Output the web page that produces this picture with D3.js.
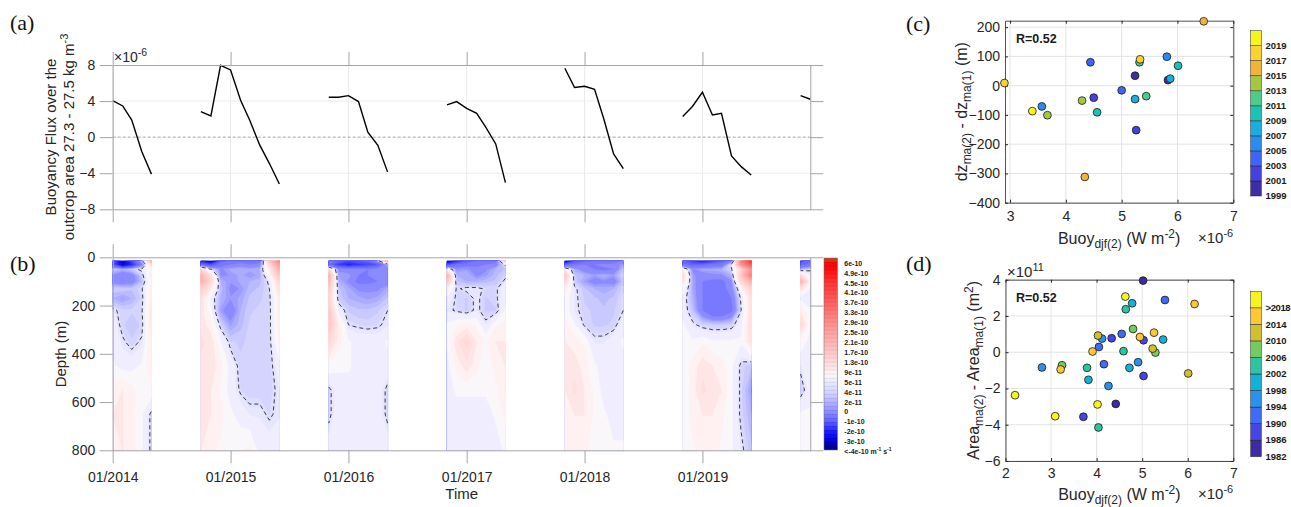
<!DOCTYPE html>
<html>
<head>
<meta charset="utf-8">
<script src="https://cdn.jsdelivr.net/npm/d3@7"></script>
<style>
  body { margin: 0; background: #fff; }
  svg  { font-family: "Liberation Sans", Arial, Helvetica, sans-serif; }
</style>
</head>
<body>
<svg id="fig" width="1291" height="507"></svg>
<script>
/* ── DATA ─────────────────────────────────────── */

// winters shown in (a) and (b): first month, then one value per month
const winterStarts = ["2014-01", "2014-10", "2015-11", "2016-11", "2017-11", "2018-11", "2019-11"];
const fluxWinters = [
  [4.05, 3.46, 1.9, -1.6, -4.1],
  [2.83, 2.35, 7.97, 7.45, 4.1, 1.9, -0.86, -2.9, -5.2],
  [4.42, 4.42, 4.6, 3.95, 0.55, -0.9, -3.85],
  [3.57, 3.94, 3.2, 2.65, 1.1, -0.75, -5.04],
  [7.64, 5.5, 5.64, 5.3, 2.1, -1.86, -3.5],
  [2.28, 3.4, 4.98, 2.46, 2.65, -2.08, -3.27, -4.2],
  [4.6, 4.2]
];
const yearTicks  = ["2014-01", "2015-01", "2016-01", "2017-01", "2018-01", "2019-01"];
const fluxTicks  = [8, 4, 0, -4, -8];
const depthTicks = [0, 200, 400, 600, 800];

// (b) field, x1e-11 m-1 s-1, rows = depth levels, columns = months of each winter
const depthLevels = [15, 30, 50, 75, 100, 130, 170, 220, 280, 350, 450, 550, 650, 800];
const heatWinters = [
  [[-8,-28,-12,3,22],[-10,-28,-18,-2,14],[3.5,2,3.5,5,9],[0,-2,-1,3.5,10],[-1,-2,-1,2.5,9],
   [3.5,3.5,3,4.2,10],[2,1,2,3.8,10],[5,3.8,3.8,4.2,11],[6,3.8,3,3.8,11],[6,4.8,3.8,4.8,10],
   [7,6,6,7,10],[9,10,9,7,8],[10,10,9,7,4],[9,10,9,7,4]],
  [[-20,-30,-10,-4,-4,-6,-4,18,30],[-6,-12,-4,-2,-1,-2,-1,14,26],[14,5,0,1.5,2,1.5,2,10,22],
   [22,12,0,0.5,1.5,0.5,1.5,8,18],[22,14,2,0.5,1.5,2,2.5,5,14],[16,10,2.5,0,0.5,2.5,3,4.5,12],
   [12,6,2,0.5,1.5,3,3.5,4,10],[11,7,1,-1.5,2,3.5,3.8,3.8,10],[11,9,3.8,1,2.5,3.8,3.8,3.8,10],
   [12,11,7,3.8,3.5,3.8,3.8,3.8,9],[11,11,9,6,3.8,3.8,3.8,3.8,6],[10,10,8,6,4.2,3.8,3.8,3.8,5],
   [10,10,9,7,6,5,5,4.2,5],[10,9,8,7,8,9,6,6,6]],
  [[-3,-8,-12,-10,-8,2,22],[-6,-15,-20,-16,-14,-10,2],[14,0,-1,-1,-2,-1,0],
   [22,1,1,-2,-2,-1,0],[20,2,0,-3,-3,-2,-1],[17,3,1.5,0,0,0,1.5],
   [15,3.5,2,1.5,1,1.5,3],[17,6,3.5,3,3,3.5,4.5],[18,10,4.5,4.2,4,4.2,5],[14,9,7,6,6,6,7],
   [8,7,7,6,6,6,6],[4,6,6,6,6,6,4],[4,6,6,6,6,6,4],[6,6,6,6,6,6,6]],
  [[-30,-18,-10,-6,-6,-4,18],[-12,-6,-4,-3,-2,-1,5],[10,0,1,-1,0,2,3],
   [22,2,2,0,1,2.5,4],[18,3,2,2,2.5,3,5],[10,4.2,5,5,4.2,4.2,6],[6,4.2,3.5,5,3.5,4.2,6],
   [5,4.2,3.5,5,3.5,3.5,7],[7,8,9,8,5,8,9],[7,11,14,10,8,10,10],[6,9,11,9,7,9,10],
   [6,7,7,7,7,8,10],[6,6,6,6,6,7,9],[6,6,6,6,6,6,7]],
  [[-30,-12,-8,-6,-6,-5,-2],[-8,-4,-2,-2,-1,-1,1],[10,1.5,-1,-2,-3,-2,3],
   [18,3,2,1,2,1,4],[14,3.5,1,-1,0,-1,3],[10,5,3,2,1.5,2,4],[8,5,3.5,3,2.5,3,4.5],
   [8,5,3.8,3.5,3,3.5,4.5],[9,7,4.2,3.5,3.5,3.8,6],[10,9,8,5,5,6,7],[10,11,9,7,6,6,6],
   [10,12,10,8,6,6,6],[9,10,10,8,7,6,6],[9,9,9,7,7,7,7]],
  [[-8,-15,-20,-15,-10,-3,32,45],[-5,-8,-8,-5,-4,5,28,38],[10,0,1.5,1.5,2,4.2,14,28],
   [14,1,-1,0,0,2,18,32],[12,1.5,-2,-3,-3,0,14,22],[8,1.5,-2,-3,-3,-1,8,15],
   [6,2,-2,-5,-5,-2,5,12],[6,3,-2,-6,-6,-3,4.5,12],[7,5,3.8,3.5,3.5,3.8,6,13],
   [7,7,8,7,7,7,7,12],[7,9,11,10,9,7,4,3],[7,9,12,11,10,7,4,1],
   [7,9,10,10,9,7,4,2],[7,8,9,9,8,7,5,3]],
  [[-12,-8],[-8,-4],[2,4],[14,6],[22,8],[12,6],[6,5],[10,7],[14,7],[8,6],[5,6],[3.5,6],[7,7],[8,7]]
];
const dashLevel = 4.5;
const cbarLevels = [60, 49, 45, 41, 37, 33, 29, 25, 21, 17, 13, 9, 5, 4, 2, 0, -10, -20, -30, -40];
const cbarLabels = ["6e-10", "4.9e-10", "4.5e-10", "4.1e-10", "3.7e-10", "3.3e-10", "2.9e-10",
  "2.5e-10", "2.1e-10", "1.7e-10", "1.3e-10", "9e-11", "5e-11", "4e-11", "2e-11", "0",
  "-1e-10", "-2e-10", "-3e-10", "<-4e-10"];

// (c) x1e-6 buoyancy vs dz, one point per year
const yearsC = [1999,2000,2001,2002,2003,2004,2005,2006,2007,2008,2009,2010,2011,2012,2013,2014,2015,2016,2017,2018,2019];
const buoyC  = [5.24,5.83,4.50,5.26,4.44,5.00,3.57,5.81,5.24,5.87,4.56,6.01,5.32,5.44,3.67,4.29,4.34,6.47,2.90,5.33,3.40];
const dzC    = [34,19,-41,-152,80,-16,-71,99,-46,24,-91,68,80,-36,-101,-51,-312,220,9,90,-87];
const xTicksC = [3, 4, 5, 6, 7];
const yTicksC = [-400, -300, -200, -100, 0, 100, 200];
const cbarTicksC = [1999, 2001, 2003, 2005, 2007, 2009, 2011, 2013, 2015, 2017, 2019];

// (d) x1e-6 buoyancy vs area change (x1e11 m2)
const yearsD = [1982,1983,1986,1987,1988,1989,1990,1991,1992,1993,1994,1995,1996,1997,1998,1999,2000,2001,
                2002,2003,2004,2005,2006,2007,2008,2010,2011,2012,2014,2015,2016,2017,2018,2019,2020,2021,2022];
const buoyD  = [5.02,4.42,4.33,5.03,5.03,3.71,5.50,4.55,4.05,4.16,4.12,2.80,4.91,4.26,4.78,5.46,4.72,3.82,
                4.64,4.59,3.79,4.04,4.80,5.29,3.24,4.03,5.23,6.01,6.15,5.26,4.95,3.91,3.21,4.63,2.21,4.02,3.09];
const areaD  = [3.95,-2.85,0.77,0.66,-1.31,-3.56,2.88,1.01,0.29,-0.66,0.75,-0.84,-0.55,-1.86,2.70,0.70,-0.86,-1.52,
                2.37,0.06,-0.86,-4.15,1.28,-0.02,-0.72,0.92,0.20,-1.17,2.66,1.08,0.84,0.04,-0.95,3.07,-2.37,-2.88,-3.53];
const xTicksD = [2, 3, 4, 5, 6, 7];
const yTicksD = [-6, -4, -2, 0, 2, 4];
const cbarTicksD = [1982, 1986, 1990, 1994, 1998, 2002, 2006, 2010, 2014, 2018];
const cbarLabelsD = ["1982", "1986", "1990", "1994", "1998", "2002", "2006", "2010", "2014", ">2018"];

/* ── STYLE ────────────────────────────────────── */

const TXT = "#262626";
const AXG = "#a4a4a4";
const parulaC = ["#3d2ea8","#4540e0","#3e64f8","#2a8cf0","#1aaee0","#1cc2b4","#4ccb8a","#a4c841","#f0b43c","#fad232","#f8f51c"];
const parulaD = ["#3d2ba4","#4645e4","#3e6cf8","#2a92ec","#10b2d8","#2ec4a2","#72cc60","#d2bf2e","#fcc834","#f8f420"];
const cbStopsT = [0, 0.014, 0.049, 0.092, 0.153, 0.222, 0.292, 0.354, 0.394, 0.417, 0.465, 0.543, 0.648, 0.769, 0.873, 0.946, 1];
const cbStopsC = ["#000090","#000090","#0000e0","#1818ff","#6464ff","#a0a0ff","#d0d0ff","#eaeaff","#fffafa",
                  "#ffeaea","#ffd8d8","#ffbaba","#ff9494","#ff6060","#ff3434","#ff0a0a","#ff0000"];

const svg = d3.select("#fig");
const parseMonth = d3.timeParse("%Y-%m");

function styleAxis(g, col, size) {
  g.attr("font-family", null).attr("font-size", size);
  g.select(".domain").attr("stroke", col);
  g.selectAll(".tick line").attr("stroke", col);
  g.selectAll(".tick text").attr("fill", TXT);
}

/* ── (a) BUOYANCY FLUX ────────────────────────── */

const xT = d3.scaleTime().domain([parseMonth("2014-01"), parseMonth("2019-12")]).range([112.7, 810.3]);
const yA = d3.scaleLinear().domain([-8, 8]).range([209.3, 65]);
const yB = d3.scaleLinear().domain([0, 800]).range([257.3, 450.3]);
const tickDates = yearTicks.map(parseMonth);

const gA = svg.append("g");
gA.selectAll(".vgrid").data(tickDates).join("line")
  .attr("x1", d => xT(d)).attr("x2", d => xT(d))
  .attr("y1", yA(8)).attr("y2", yA(-8))
  .attr("stroke", "#ebebeb");
gA.selectAll(".hgrid").data([4, -4]).join("line")
  .attr("x1", xT.range()[0]).attr("x2", xT.range()[1])
  .attr("y1", d => yA(d)).attr("y2", d => yA(d))
  .attr("stroke", "#ebebeb");
gA.append("line")
  .attr("x1", xT.range()[0]).attr("x2", xT.range()[1])
  .attr("y1", yA(0)).attr("y2", yA(0))
  .attr("stroke", "#8c8c8c").attr("stroke-dasharray", "3,2").attr("stroke-width", 0.8);

const line = d3.line().x(d => xT(d.date)).y(d => yA(d.v));
winterStarts.forEach((s, w) => {
  const pts = fluxWinters[w].map((v, k) => ({ date: d3.timeMonth.offset(parseMonth(s), k), v }));
  gA.append("path").datum(pts)
    .attr("d", line).attr("fill", "none")
    .attr("stroke", "#000").attr("stroke-width", 1.4);
});

gA.append("g").attr("transform", `translate(0,${yA(8)})`)
  .call(d3.axisTop(xT).tickValues(tickDates).tickSize(13).tickSizeOuter(0).tickFormat(""))
  .call(g => styleAxis(g, AXG, 14));
gA.append("g").attr("transform", `translate(0,${yA(-8)})`)
  .call(d3.axisBottom(xT).tickValues(tickDates).tickSize(13).tickSizeOuter(0).tickFormat(""))
  .call(g => styleAxis(g, AXG, 14));
gA.append("g").attr("transform", `translate(${xT.range()[0]},0)`)
  .call(d3.axisLeft(yA).tickValues(fluxTicks).tickSize(13).tickSizeOuter(0).tickPadding(4.5))
  .call(g => styleAxis(g, AXG, 14));
gA.append("g").attr("transform", `translate(${xT.range()[1]},0)`)
  .call(d3.axisRight(yA).tickValues(fluxTicks).tickSize(13).tickSizeOuter(0).tickFormat(""))
  .call(g => styleAxis(g, AXG, 14));

const expA = gA.append("text").attr("x", 114).attr("y", 62).attr("font-size", 14).attr("fill", TXT);
expA.append("tspan").text("\u00d710");
expA.append("tspan").attr("dy", -6).attr("font-size", 10.5).text("-6");

gA.append("text").attr("transform", "translate(55.5,137) rotate(-90)")
  .attr("text-anchor", "middle").attr("font-size", 15).attr("fill", TXT)
  .text("Buoyancy Flux over the");
const ylA = gA.append("text").attr("transform", "translate(74,137) rotate(-90)")
  .attr("text-anchor", "middle").attr("font-size", 15).attr("fill", TXT);
ylA.append("tspan").text("outcrop area 27.3 - 27.5 kg m");
ylA.append("tspan").attr("dy", -6).attr("font-size", 11).text("-3");

/* ── (b) CONTOURED FIELD ──────────────────────── */

const cbTop = 258, cbBot = 450, cbX = 824, cbW = 13.5, NB = 48;
const labelY = d3.scaleLinear().domain([0, cbarLevels.length - 1]).range([263.3, 451.7]);
const levelT = cbarLevels.map((v, k) => (cbBot - labelY(k)) / (cbBot - cbTop));
const tToValue = d3.scaleLinear().domain(levelT).range(cbarLevels);
const cbColor = d3.scaleLinear().domain(cbStopsT).range(cbStopsC).interpolate(d3.interpolateRgb).clamp(true);
const bandColor = b => b >= NB - 1 ? "#c83c1c" : cbColor((b + 0.5) / NB);
const bandEdges = d3.range(1, NB).map(b => tToValue(b / NB));

const gB = svg.append("g");
const clampv = (v, lo, hi) => Math.max(lo, Math.min(hi, v));

heatWinters.forEach((block, w) => {
  const n = depthLevels.length, m = block[0].length;
  const dates = d3.range(m).map(k => d3.timeMonth.offset(parseMonth(winterStarts[w]), k));
  const colX = d3.scaleLinear().domain(d3.range(m)).range(dates.map(xT));
  const rowY = d3.scaleLinear().domain(d3.range(n)).range(depthLevels.map(yB));
  const fx = u => colX(clampv(u - 0.5, 0, m - 1));
  const fy = v => rowY(clampv(v - 0.5, 0, n - 1));
  const proj = d3.geoTransform({ point(u, v) { this.stream.point(fx(u), fy(v)); } });
  const path = d3.geoPath(proj);
  const values = block.flat();

  gB.append("rect")
    .attr("x", colX(0)).attr("y", rowY(0))
    .attr("width", colX(m - 1) - colX(0)).attr("height", rowY(n - 1) - rowY(0))
    .attr("fill", bandColor(1));

  const cs = d3.contours().size([m, n]).thresholds(bandEdges)(values);
  gB.append("g").selectAll("path").data(cs.filter(c => c.coordinates.length)).join("path")
    .attr("d", path)
    .attr("fill", c => bandColor(bandEdges.indexOf(c.value) + 1))
    .attr("stroke", c => bandColor(bandEdges.indexOf(c.value) + 1))
    .attr("stroke-width", 0.3);

  // dashed contour, without the parts that run along the block edges
  const x0 = colX(0), x1 = colX(m - 1), y0 = rowY(0), y1 = rowY(n - 1);
  const near = (a, b) => Math.abs(a - b) < 0.01;
  const onEdge = (a, b) =>
    (near(a[0], b[0]) && (near(a[0], x0) || near(a[0], x1))) ||
    (near(a[1], b[1]) && (near(a[1], y0) || near(a[1], y1)));
  const dc = d3.contours().size([m, n]).contour(values, dashLevel);
  const p = d3.path();
  dc.coordinates.forEach(poly => poly.forEach(ring => {
    const pts = ring.map(([u, v]) => [fx(u), fy(v)]);
    let pen = false;
    for (let i = 1; i < pts.length; i++) {
      const a = pts[i - 1], b = pts[i];
      if (onEdge(a, b)) { pen = false; continue; }
      if (!pen) { p.moveTo(a[0], a[1]); pen = true; }
      p.lineTo(b[0], b[1]);
    }
  }));
  gB.append("path").attr("d", p.toString())
    .attr("fill", "none").attr("stroke", "#111")
    .attr("stroke-width", 0.8).attr("stroke-dasharray", "4,3");
});

gB.append("g").attr("transform", `translate(0,${yB(0)})`)
  .call(d3.axisTop(xT).tickValues(tickDates).tickSize(13).tickSizeOuter(0).tickFormat(""))
  .call(g => styleAxis(g, AXG, 14));
gB.append("g").attr("transform", `translate(0,${yB(800)})`)
  .call(d3.axisBottom(xT).tickValues(tickDates).tickSize(13).tickSizeOuter(0).tickPadding(8.5)
        .tickFormat(d3.timeFormat("%m/%Y")))
  .call(g => styleAxis(g, AXG, 14));
gB.append("g").attr("transform", `translate(${xT.range()[0]},0)`)
  .call(d3.axisLeft(yB).tickValues(depthTicks).tickSize(13).tickSizeOuter(0).tickPadding(4.5))
  .call(g => styleAxis(g, AXG, 14));
gB.append("g").attr("transform", `translate(${xT.range()[1]},0)`)
  .call(d3.axisRight(yB).tickValues(depthTicks).tickSize(13).tickSizeOuter(0).tickFormat(""))
  .call(g => styleAxis(g, AXG, 14));

gB.append("text").attr("x", 461.7).attr("y", 499).attr("text-anchor", "middle")
  .attr("font-size", 15).attr("fill", TXT).text("Time");
gB.append("text").attr("transform", "translate(66,354) rotate(-90)").attr("text-anchor", "middle")
  .attr("font-size", 15).attr("fill", TXT).text("Depth (m)");

// colour bar of (b)
const cbY = t => cbBot - t * (cbBot - cbTop);
const gCb = svg.append("g");
gCb.selectAll("rect").data(d3.range(NB)).join("rect")
  .attr("x", cbX).attr("width", cbW)
  .attr("y", b => cbY((b + 1) / NB)).attr("height", (cbBot - cbTop) / NB)
  .attr("fill", b => bandColor(b))
  .attr("stroke", "rgba(0,0,0,0.13)").attr("stroke-width", 0.4);
gCb.append("rect").attr("x", cbX).attr("y", cbTop).attr("width", cbW).attr("height", cbBot - cbTop)
  .attr("fill", "none").attr("stroke", "#777").attr("stroke-width", 0.5);

svg.append("clipPath").attr("id", "cbclip").append("rect")
  .attr("x", 838).attr("y", 250).attr("width", 67).attr("height", 210);
const gCbl = gCb.append("g").attr("clip-path", "url(#cbclip)")
  .attr("font-size", 7).attr("font-weight", "bold").attr("fill", "#1a1a1a");
cbarLabels.forEach((s, k) => {
  const t = gCbl.append("text").attr("x", 844.3).attr("y", labelY(k)).attr("dy", "0.35em");
  t.append("tspan").text(s);
  if (k === cbarLabels.length - 1) {
    t.append("tspan").text(" m");
    t.append("tspan").attr("dy", -3).attr("font-size", 5).text("-1");
    t.append("tspan").attr("dy", 3).text(" s");
    t.append("tspan").attr("dy", -3).attr("font-size", 5).text("-1");
  }
});

/* ── (c), (d) SCATTER PANELS ──────────────────── */

function scatterPanel(o) {
  const g = svg.append("g");
  const [L, R] = o.x.range(), [B, T] = o.y.range();
  g.selectAll(".vg").data(o.xTicks).join("line")
    .attr("x1", d => o.x(d)).attr("x2", d => o.x(d)).attr("y1", T).attr("y2", B)
    .attr("stroke", "#e3e3e3");
  g.selectAll(".hg").data(o.yTicks).join("line")
    .attr("x1", L).attr("x2", R).attr("y1", d => o.y(d)).attr("y2", d => o.y(d))
    .attr("stroke", "#e3e3e3");

  const fmt = d3.format("d");
  const ax = [
    [d3.axisBottom(o.x).tickValues(o.xTicks).tickFormat(fmt).tickPadding(o.xPad), `translate(0,${B})`],
    [d3.axisTop(o.x).tickValues(o.xTicks).tickFormat(""), `translate(0,${T})`],
    [d3.axisLeft(o.y).tickValues(o.yTicks).tickFormat(fmt).tickPadding(5), `translate(${L},0)`],
    [d3.axisRight(o.y).tickValues(o.yTicks).tickFormat(""), `translate(${R},0)`]
  ];
  ax.forEach(([a, tr]) => g.append("g").attr("transform", tr)
    .call(a.tickSize(-3).tickSizeOuter(0))
    .call(s => styleAxis(s, "#262626", 14))
    .call(s => s.select(".domain").attr("stroke-width", 0.8)));

  g.selectAll("circle").data(o.xs.map((v, i) => i)).join("circle")
    .attr("cx", i => o.x(o.xs[i])).attr("cy", i => o.y(o.ys[i])).attr("r", 3.9)
    .attr("fill", i => o.color(o.years[i]))
    .attr("stroke", "#1a1a1a").attr("stroke-width", 0.8);

  g.append("text").attr("x", 1016).attr("y", T + 22.5).attr("font-size", 12.5)
    .attr("font-weight", "bold").attr("fill", "#1a1a1a").text("R=0.52");

  const xl = g.append("text").attr("x", (L + R) / 2).attr("y", o.xlabY)
    .attr("text-anchor", "middle").attr("font-size", 16).attr("fill", TXT);
  xl.append("tspan").text("Buoy");
  xl.append("tspan").attr("dy", 4).attr("font-size", 12).text("djf(2)");
  xl.append("tspan").attr("dy", -4).text(" (W m");
  xl.append("tspan").attr("dy", -6).attr("font-size", 12).text("-2");
  xl.append("tspan").attr("dy", 6).text(")");

  const ex = g.append("text").attr("x", 1198).attr("y", o.xlabY - 0.5).attr("font-size", 15).attr("fill", TXT);
  ex.append("tspan").text("\u00d710");
  ex.append("tspan").attr("dy", -6).attr("font-size", 11).text("-6");

  const yl = g.append("text").attr("transform", `translate(${o.ylabX},${(T + B) / 2}) rotate(-90)`)
    .attr("text-anchor", "middle").attr("font-size", 16).attr("fill", TXT);
  o.ylab.forEach(([s, kind]) => {
    const t = yl.append("tspan").text(s);
    if (kind === "sub") t.attr("dy", 4).attr("font-size", 12);
    if (kind === "sup") t.attr("dy", -6).attr("font-size", 12);
    if (kind === "back-sub") t.attr("dy", -4);
    if (kind === "back-sup") t.attr("dy", 6);
  });

  // colour bar with one band per colour
  const cbs = d3.scaleLinear().domain(o.cbDomain).range([o.cbBottom, o.cbTop]);
  const step = (o.cbDomain[1] - o.cbDomain[0]) / o.palette.length;
  const gc = g.append("g");
  gc.selectAll("rect").data(o.palette).join("rect")
    .attr("x", 1250.7).attr("width", 10.6)
    .attr("y", (c, i) => cbs(o.cbDomain[0] + (i + 1) * step))
    .attr("height", (c, i) => cbs(o.cbDomain[0] + i * step) - cbs(o.cbDomain[0] + (i + 1) * step))
    .attr("fill", c => c).attr("stroke", "#222").attr("stroke-width", 0.5);
  gc.selectAll("text").data(o.cbTicks).join("text")
    .attr("x", 1265.5).attr("y", d => cbs(d)).attr("dy", "0.35em")
    .attr("font-size", 9.5).attr("font-weight", "bold").attr("fill", "#1a1a1a")
    .attr("letter-spacing", (d, i) => o.cbLabels[i].length > 4 ? -0.4 : null)
    .text((d, i) => o.cbLabels[i]);
  return g;
}

const gC = scatterPanel({
  x: d3.scaleLinear().domain([2.91, 7]).range([1005, 1233.3]),
  y: d3.scaleLinear().domain([-400, 222]).range([202.7, 20.7]),
  xTicks: xTicksC, yTicks: yTicksC, xPad: 8.5,
  xs: buoyC, ys: dzC, years: yearsC,
  color: yr => parulaC[Math.min(10, Math.floor((yr - 1999) / 2))],
  xlabY: 243.5, ylabX: 967,
  ylab: [["dz"], ["ma(2)", "sub"], [" - dz", "back-sub"], ["ma(1)", "sub"], [" (m)", "back-sub"]],
  palette: parulaC, cbDomain: [1999, 2021], cbBottom: 196, cbTop: 30.7,
  cbTicks: cbarTicksC, cbLabels: cbarTicksC.map(String)
});

const gD = scatterPanel({
  x: d3.scaleLinear().domain([2, 7]).range([1005.5, 1233.3]),
  y: d3.scaleLinear().domain([-6, 4]).range([461, 279.7]),
  xTicks: xTicksD, yTicks: yTicksD, xPad: 7,
  xs: buoyD, ys: areaD, years: yearsD,
  color: yr => parulaD[yr > 2018 ? 9 : Math.min(8, Math.floor((yr - 1982) / 4))],
  xlabY: 499.5, ylabX: 979,
  ylab: [["Area"], ["ma(2)", "sub"], [" - Area", "back-sub"], ["ma(1)", "sub"], [" (m", "back-sub"], ["2", "sup"], [")", "back-sup"]],
  palette: parulaD, cbDomain: [1982, 2022], cbBottom: 456.7, cbTop: 291.3,
  cbTicks: cbarTicksD, cbLabels: cbarLabelsD
});

const exD = gD.append("text").attr("x", 1007).attr("y", 276.5).attr("font-size", 15).attr("fill", TXT);
exD.append("tspan").text("\u00d710");
exD.append("tspan").attr("dy", -6).attr("font-size", 11).text("11");

/* ── PANEL LETTERS ────────────────────────────── */

[["(a)", 10, 30], ["(b)", 10, 271], ["(c)", 906, 31], ["(d)", 906, 271]].forEach(([s, x, y]) =>
  svg.append("text").attr("x", x).attr("y", y)
    .attr("font-family", '"Liberation Serif", "Times New Roman", serif')
    .attr("font-size", 22).attr("fill", "#111").text(s));
</script>
</body>
</html>
